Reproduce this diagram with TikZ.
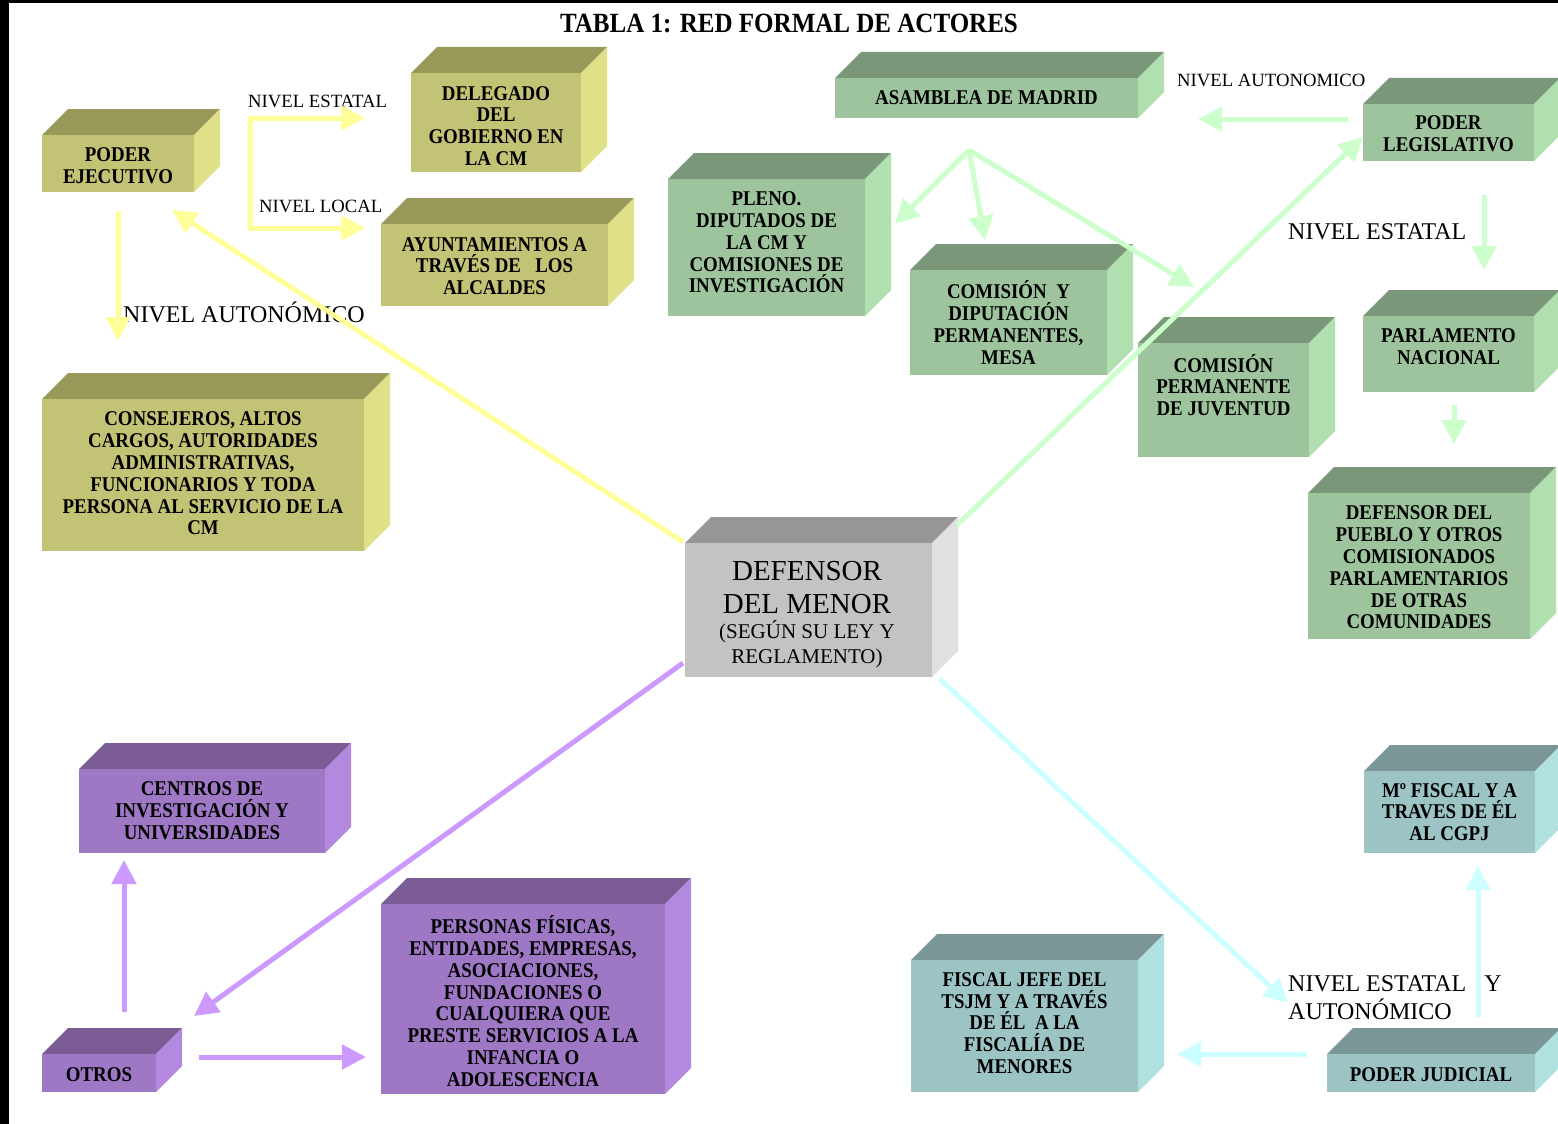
\documentclass[tikz,border=0pt]{standalone}
\usepackage{fontspec}
\setmainfont{Liberation Serif}
\newfontfamily\narrowserif{Liberation Serif}[FakeStretch=0.9]
\usetikzlibrary{arrows.meta}

% face colours of the solids: front, top, side
\definecolor{olFront}{RGB}{195,195,117}
\definecolor{olTop}{RGB}{153,153,89}
\definecolor{olSide}{RGB}{224,224,136}
\definecolor{grFront}{RGB}{157,196,157}
\definecolor{grTop}{RGB}{122,151,122}
\definecolor{grSide}{RGB}{176,223,176}
\definecolor{puFront}{RGB}{158,120,196}
\definecolor{puTop}{RGB}{122,91,148}
\definecolor{puSide}{RGB}{179,137,224}
\definecolor{tqFront}{RGB}{157,196,196}
\definecolor{tqTop}{RGB}{122,150,150}
\definecolor{tqSide}{RGB}{176,224,224}
\definecolor{gyFront}{RGB}{195,195,195}
\definecolor{gyTop}{RGB}{150,150,150}
\definecolor{gySide}{RGB}{224,224,224}
% connector colours
\definecolor{arYel}{RGB}{255,255,153}
\definecolor{arGrn}{RGB}{204,255,204}
\definecolor{arPur}{RGB}{204,153,255}
\definecolor{arCya}{RGB}{204,255,255}

% a solid block: name, palette, x1, y1, x2, y2 (front face), text baseline-centre y, text
\newcommand\solidblock[8]{%
  \fill[#2Top] (#3,#4) -- ({#3+26},{#4-26}) -- ({#5+26},{#4-26}) -- (#5,#4) -- cycle;
  \fill[#2Side] (#5,#4) -- ({#5+26},{#4-26}) -- ({#5+26},{#6-26}) -- (#5,#6) -- cycle;
  \node[fill=#2Front, inner sep=0pt, outer sep=0pt,
        minimum width={(#5-#3)*1pt}, minimum height={(#6-#4)*1pt},
        anchor=north west] (#1) at (#3,#4) {};
  \node[boxtext] (#1-t) at ({(#3+#5)/2},#7) {#8};
}

\tikzset{
  boxtext/.style={font=\narrowserif\bfseries\fontsize{21}{21.8}\selectfont,
                  align=center, inner sep=0pt},
  lab/.style={font=\fontsize{18.7}{20}\selectfont, inner sep=0pt, anchor=base west},
  biglab/.style={font=\fontsize{24}{28}\selectfont, inner sep=0pt, anchor=base west},
  arr/.style={line width=5pt, -{Triangle[length=24pt,width=24pt]}},
  ya/.style={arr, draw=arYel},
  ga/.style={arr, draw=arGrn},
  pa/.style={arr, draw=arPur},
  ca/.style={arr, draw=arCya},
}

\begin{document}
\begin{tikzpicture}[x=1pt, y=-1pt]
\useasboundingbox (0,0) rectangle (1558,1124);
\fill[white] (0,0) rectangle (1558,1124);
% frame edges
\fill[black] (0,0) rectangle (9,1124);
\fill[black] (0,0) rectangle (1558,3);

% title
\node[font=\narrowserif\bfseries\fontsize{27.8}{30}\selectfont, inner sep=0pt, anchor=base]
  (title) at (789,33) {TABLA 1: RED FORMAL DE ACTORES};

% executive branch
\solidblock{pe}{ol}{42}{135}{194}{192}{165.5}{PODER\\EJECUTIVO}
\solidblock{del}{ol}{411}{73}{581}{172}{126}{DELEGADO\\DEL\\GOBIERNO EN\\LA CM}
\solidblock{ayu}{ol}{381}{224}{608}{306}{266}{AYUNTAMIENTOS A\\TRAVÉS DE\ \ \ LOS\\ALCALDES}
\solidblock{cons}{ol}{42}{399}{364}{551}{473.5}{CONSEJEROS, ALTOS\\CARGOS, AUTORIDADES\\ADMINISTRATIVAS,\\FUNCIONARIOS Y TODA\\PERSONA AL SERVICIO DE LA\\CM}

% legislative branch
\solidblock{asam}{gr}{835}{78}{1138}{118}{98}{ASAMBLEA DE MADRID}
\solidblock{pleno}{gr}{668}{179}{865}{316}{242.5}{PLENO.\\DIPUTADOS DE\\LA CM Y\\COMISIONES DE\\INVESTIGACIÓN}
\solidblock{comdip}{gr}{910}{270}{1107}{375}{322.5}{COMISIÓN\ \ Y\\DIPUTACIÓN\\PERMANENTES,\\MESA}
\solidblock{comjuv}{gr}{1138}{343}{1309}{457}{385}{COMISIÓN\\PERMANENTE\\DE JUVENTUD}
\solidblock{pleg}{gr}{1363}{104}{1534}{161}{134}{PODER\\LEGISLATIVO}
\solidblock{parl}{gr}{1363}{316}{1534}{392}{346.5}{PARLAMENTO\\NACIONAL}
\solidblock{dpue}{gr}{1308}{493}{1530}{639}{567.5}{DEFENSOR DEL\\PUEBLO Y OTROS\\COMISIONADOS\\PARLAMENTARIOS\\DE OTRAS\\COMUNIDADES}

% others
\solidblock{cent}{pu}{79}{769}{325}{853}{810.5}{CENTROS DE\\INVESTIGACIÓN Y\\UNIVERSIDADES}
\solidblock{otros}{pu}{42}{1054}{156}{1092}{1075}{OTROS}
\solidblock{pers}{pu}{381}{904}{665}{1094}{1001}{PERSONAS FÍSICAS,\\ENTIDADES, EMPRESAS,\\ASOCIACIONES,\\FUNDACIONES O\\CUALQUIERA QUE\\PRESTE SERVICIOS A LA\\INFANCIA O\\ADOLESCENCIA}

% judicial branch
\solidblock{fisc}{tq}{911}{960}{1138}{1092}{1023}{FISCAL JEFE DEL\\TSJM Y A TRAVÉS\\DE ÉL\ \ A LA\\FISCALÍA DE\\MENORES}
\solidblock{pj}{tq}{1327}{1054}{1535}{1092}{1075}{PODER JUDICIAL}
\solidblock{mf}{tq}{1364}{771}{1535}{853}{812}{Mº FISCAL Y A\\TRAVES DE ÉL\\AL CGPJ}

% central block
\solidblock{dm}{gy}{685}{543}{932}{677}{610}{}
\node[font=\fontsize{29}{33}\selectfont, inner sep=0pt, anchor=base] (dm-1) at (807,580) {DEFENSOR};
\node[font=\fontsize{29}{33}\selectfont, inner sep=0pt, anchor=base] (dm-2) at (807,613) {DEL MENOR};
\node[font=\fontsize{21}{25}\selectfont, inner sep=0pt, anchor=base] (dm-3) at (807,638) {(SEGÚN SU LEY Y};
\node[font=\fontsize{21}{25}\selectfont, inner sep=0pt, anchor=base] (dm-4) at (807,663) {REGLAMENTO)};

% level labels
\node[lab] (l-est) at (248,107) {NIVEL ESTATAL};
\node[lab] (l-loc) at (259,212) {NIVEL LOCAL};
\node[biglab] (l-aut) at (123,322) {NIVEL AUTONÓMICO};
\node[lab] (l-aut2) at (1177,86) {NIVEL AUTONOMICO};
\node[biglab] (l-est2) at (1288,239) {NIVEL ESTATAL};
\node[biglab] (l-ea1) at (1288,991) {NIVEL ESTATAL\ \ \ Y};
\node[biglab] (l-ea2) at (1288,1019) {AUTONÓMICO};

% connector end points
\coordinate (bk) at (250,173);
\coordinate (delIn) at (365,118);
\coordinate (ayuIn) at (365,228);
\coordinate (peOut) at (118,211);
\coordinate (consIn) at (118,341);
\coordinate (dmNW) at (683,542);
\coordinate (peIn) at (172,210);
\coordinate (dmNE) at (957,525);
\coordinate (plegIn) at (1363,137);
\coordinate (plegOutL) at (1348,119);
\coordinate (asamIn) at (1198,119);
\coordinate (plegOutD) at (1484,195);
\coordinate (parlIn) at (1484,270);
\coordinate (parlOut) at (1454,405);
\coordinate (dpueIn) at (1454,444);
\coordinate (fan) at (969,150);
\coordinate (plenoIn) at (895,224);
\coordinate (comdipIn) at (985,240);
\coordinate (comjuvIn) at (1194,287);
\coordinate (dmSW) at (683,663);
\coordinate (otrosIn) at (194,1016);
\coordinate (otrosOutU) at (124,1012);
\coordinate (centIn) at (124,860);
\coordinate (otrosOutR) at (199,1057);
\coordinate (persIn) at (366,1057);
\coordinate (dmSE) at (940,679);
\coordinate (pjIn) at (1288,1003);
\coordinate (pjOutU) at (1478,1017);
\coordinate (mfIn) at (1478,866);
\coordinate (pjOutL) at (1307,1054);
\coordinate (fiscIn) at (1177,1054);

% executive connectors
\draw[ya] (bk) |- (delIn);
\draw[ya] (bk) |- (ayuIn);
\draw[ya] (peOut) -- (consIn);
\draw[ya] (dmNW) -- (peIn);

% legislative connectors
\draw[ga] (dmNE) -- (plegIn);
\draw[ga] (plegOutL) -- (asamIn);
\draw[ga] (plegOutD) -- (parlIn);
\draw[ga] (parlOut) -- (dpueIn);
\draw[ga] (fan) -- (plenoIn);
\draw[ga] (fan) -- (comdipIn);
\draw[ga] (fan) -- (comjuvIn);

% connectors to the others
\draw[pa] (dmSW) -- (otrosIn);
\draw[pa] (otrosOutU) -- (centIn);
\draw[pa] (otrosOutR) -- (persIn);

% judicial connectors
\draw[ca] (dmSE) -- (pjIn);
\draw[ca] (pjOutU) -- (mfIn);
\draw[ca] (pjOutL) -- (fiscIn);
\end{tikzpicture}
\end{document}
